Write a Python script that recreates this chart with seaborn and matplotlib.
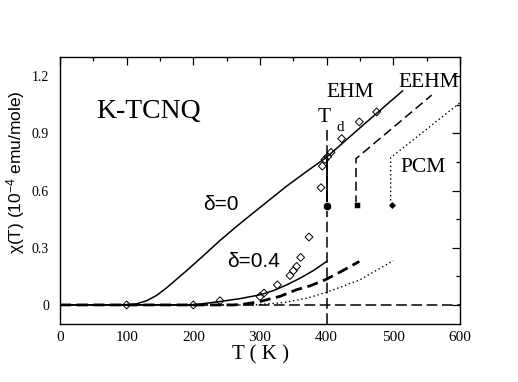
import numpy as np
import seaborn as sns
import matplotlib.pyplot as plt
from matplotlib.ticker import MultipleLocator

# experimental points (open diamonds)
T_exp = [100, 200, 240, 300, 306, 326, 345, 350, 355, 361, 373.5,
         391.5, 393.5, 397.5, 401.5, 406.5, 422.5, 449, 475]
chi_exp = [0, 0, 0.022, 0.044, 0.062, 0.105, 0.154, 0.179, 0.202, 0.249, 0.356,
           0.615, 0.728, 0.763, 0.777, 0.80, 0.872, 0.96, 1.012]

# delta = 0 curve (EHM), continuing as straight line above Td
T_d0 = [0, 100, 115, 130, 145, 160, 175, 190, 215, 240, 265, 290, 315, 340,
        370, 400, 457, 514]
chi_d0 = [0, 0, 0.006, 0.022, 0.05, 0.09, 0.135, 0.18, 0.258, 0.338, 0.412,
          0.483, 0.553, 0.623, 0.70, 0.775, 0.95, 1.123]

# delta = 0.4 curves
T_ehm4 = [0, 200, 240, 270, 300, 320, 340, 360, 380, 400]
chi_ehm4 = [0, 0, 0.018, 0.033, 0.053, 0.075, 0.105, 0.14, 0.18, 0.228]
T_eehm4 = [0, 260, 280, 300, 330, 355, 375, 398, 420, 449]
chi_eehm4 = [0, 0, 0.006, 0.018, 0.045, 0.08, 0.10, 0.132, 0.172, 0.228]
T_pcm4 = [0, 290, 335, 370, 399, 450, 500]
chi_pcm4 = [0, 0, 0.012, 0.035, 0.065, 0.132, 0.232]

# jumps at the dimerisation temperature for each model
T_jump_ehm = [400, 400]
chi_jump_ehm = [0.52, 0.775]
T_eehm = [444, 444, 557.5]
chi_eehm = [0.526, 0.767, 1.10]
T_pcm = [496, 496, 600]
chi_pcm = [0.526, 0.772, 1.06]

# filled markers at the bottom of the jumps
T_circ, chi_circ = [400], [0.52]
T_sq, chi_sq = [446], [0.526]
T_dia, chi_dia = [497.5], [0.526]

# reference lines
T_d = [400, 400]
chi_td = [-0.1, 0.92]
T_zero = [0, 600]
chi_zero = [0, 0]

xticks = [0, 100, 200, 300, 400, 500, 600]
yticks = [0, 0.3, 0.6, 0.9, 1.2]
ytick_labels = ['0', '0.3', '0.6', '0.9', '1.2']

sns.set_style('white')
plt.rcParams['font.family'] = ['Liberation Serif', 'DejaVu Serif']
plt.rcParams['mathtext.fontset'] = 'custom'
plt.rcParams['mathtext.rm'] = 'Liberation Sans'
plt.rcParams['mathtext.it'] = 'Liberation Sans:italic'
plt.rcParams['text.color'] = 'black'
plt.rcParams['axes.labelcolor'] = 'black'
plt.rcParams['xtick.color'] = 'black'
plt.rcParams['ytick.color'] = 'black'

fig = plt.figure(figsize=(5.18, 3.82), dpi=100)
ax = fig.add_axes([60 / 518, 58 / 382, 400 / 518, 267 / 382])

def line(x, y, **kw):
    sns.lineplot(x=x, y=y, ax=ax, color='black', estimator=None, sort=False, **kw)

line(T_zero, chi_zero, lw=1.1, linestyle=(0, (7, 3)))
line(T_d, chi_td, lw=1.1, linestyle=(0, (7, 3)))
line(T_d0, chi_d0, lw=1.1)
line(T_jump_ehm, chi_jump_ehm, lw=1.3)
line(T_ehm4, chi_ehm4, lw=1.1)
line(T_eehm4, chi_eehm4, lw=2.0, linestyle=(0, (4, 2)))
line(T_pcm4, chi_pcm4, lw=1.0, linestyle=(0, (1, 2)))
line(T_eehm, chi_eehm, lw=1.1, linestyle=(0, (6, 3)))
line(T_pcm, chi_pcm, lw=1.0, linestyle=(0, (1, 2)))

sns.scatterplot(x=T_exp, y=chi_exp, ax=ax, marker='D', s=16,
                facecolor='none', edgecolor='black', linewidth=0.7, zorder=3)
sns.scatterplot(x=T_circ, y=chi_circ, ax=ax, marker='o', s=36, color='black', zorder=4)
sns.scatterplot(x=T_sq, y=chi_sq, ax=ax, marker='s', s=25, color='black', zorder=4)
sns.scatterplot(x=T_dia, y=chi_dia, ax=ax, marker='D', s=15, color='black', zorder=4)

ax.set_xlim(0, 600)
ax.set_ylim(-0.1, 1.3)
ax.set_xticks(xticks)
ax.set_yticks(yticks)
ax.set_yticklabels(ytick_labels)
ax.xaxis.set_minor_locator(MultipleLocator(50))
ax.yaxis.set_minor_locator(MultipleLocator(0.15))
ax.tick_params(which='both', direction='in', top=True, right=True, colors='black')
ax.tick_params(which='major', length=6, width=0.9)
ax.tick_params(which='minor', length=3, width=0.9)
ax.tick_params(axis='x', pad=5, labelsize=11)
ax.tick_params(axis='y', pad=8, labelsize=10)
for s in ax.spines.values():
    s.set_color('black')
    s.set_linewidth(1.0)

ax.set_xlabel('T ( K )', fontsize=15, labelpad=1)
ax.set_ylabel(r'χ(T) (10$^{-4}$ emu/mole)', fontsize=12.5, family='Liberation Sans')
ax.yaxis.set_label_coords(-0.11, 0.569)
ax.yaxis.label.set_va('center')

ax.text(55, 1.016, 'K-TCNQ', fontsize=20, va='center', ha='left')
ax.text(214, 0.526, 'δ=0', fontsize=15, family='Liberation Sans', va='center')
ax.text(250, 0.228, 'δ=0.4', fontsize=15, family='Liberation Sans', va='center')
ax.text(400, 1.114, 'EHM', fontsize=15.5, va='center')
ax.text(507, 1.167, 'EEHM', fontsize=15.5, va='center')
ax.text(510, 0.72, 'PCM', fontsize=15.5, va='center')
ax.text(387, 0.984, 'T', fontsize=15.5, va='center')
ax.text(415, 0.93, 'd', fontsize=11, va='center')

fig.savefig('out.png', dpi=100)
